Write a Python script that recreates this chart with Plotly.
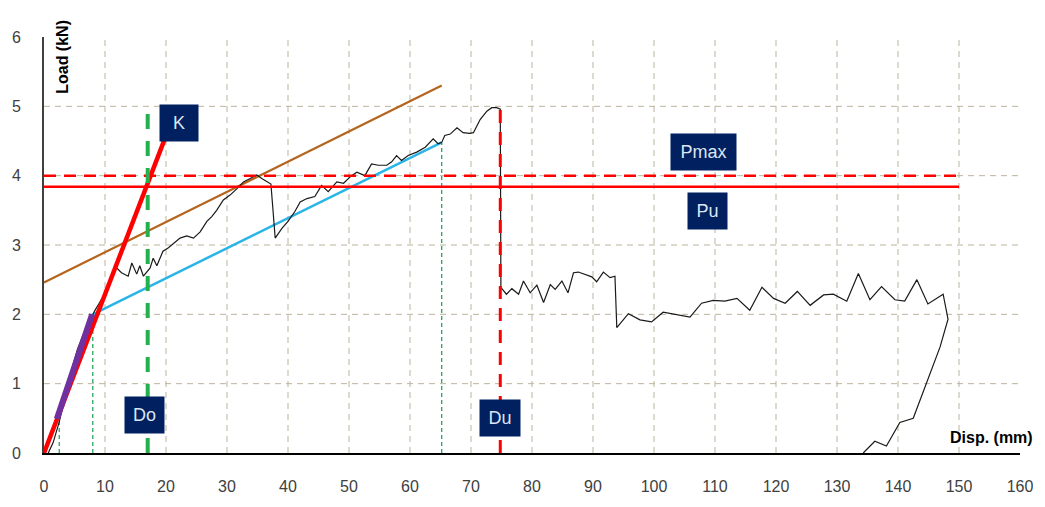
import plotly.graph_objects as go

# ---- data ----
disp = [0.7, 1.5, 2.5, 3.5, 4.5, 5.5, 6.5, 7.5, 8.3, 9.0, 10.0, 10.8, 11.5, 11.9,
        12.7, 13.8, 14.4, 15.2, 15.7, 16.3, 17.4, 17.9, 18.5, 19.0, 19.5, 20.4, 21.2,
        22.3, 23.4, 24.5, 25.6, 26.7, 27.5, 28.3, 29.4, 30.5, 31.6, 32.7, 33.8, 34.9,
        35.7, 37.2, 37.9, 39.0, 40.0, 41.1, 42.0, 43.1, 44.4, 45.5, 46.6, 48.0, 49.1,
        50.4, 51.3, 52.6, 53.7, 54.8, 56.2, 57.0, 57.8, 58.6, 59.7, 61.1, 62.5, 63.8,
        64.6, 65.2, 65.7, 66.6, 67.7, 68.7, 69.8, 70.4, 71.5, 72.6, 73.4, 74.2, 74.8,
        74.9, 75.8, 76.7, 77.8, 78.6, 79.7, 80.8, 81.9, 83.0, 83.8, 84.9, 85.9, 86.8,
        87.6, 89.8, 90.6, 91.7, 92.8, 93.6, 93.9, 95.8, 97.7, 99.6, 101.5, 105.9, 107.8,
        109.7, 111.6, 113.6, 115.7, 117.7, 119.6, 121.5, 123.5, 125.6, 127.8, 129.4,
        131.6, 133.5, 135.4, 137.3, 139.5, 141.1, 143.1, 144.9, 147.4, 148.2, 146.9,
        145.5, 144.1, 142.5, 140.3, 138.1, 136.2, 134.3]
load = [0.0, 0.15, 0.45, 0.85, 1.2, 1.5, 1.72, 1.9, 2.05, 2.15, 2.3, 2.45, 2.6, 2.67,
        2.60, 2.55, 2.74, 2.58, 2.70, 2.55, 2.67, 2.81, 2.70, 2.81, 2.91, 2.96, 3.02,
        3.10, 3.13, 3.10, 3.19, 3.34, 3.41, 3.50, 3.65, 3.72, 3.81, 3.91, 3.96, 4.01,
        3.96, 3.88, 3.10, 3.24, 3.34, 3.48, 3.62, 3.67, 3.70, 3.86, 3.77, 3.91, 3.89,
        4.00, 4.05, 4.00, 4.17, 4.15, 4.15, 4.20, 4.29, 4.22, 4.29, 4.34, 4.41, 4.53,
        4.46, 4.48, 4.58, 4.60, 4.69, 4.62, 4.61, 4.62, 4.81, 4.93, 4.98, 4.98, 4.96,
        2.39, 2.29, 2.37, 2.29, 2.48, 2.31, 2.42, 2.17, 2.43, 2.36, 2.48, 2.31, 2.60,
        2.61, 2.54, 2.47, 2.61, 2.53, 2.55, 1.81, 2.01, 1.92, 1.89, 2.03, 1.96, 2.16,
        2.20, 2.19, 2.23, 2.06, 2.39, 2.23, 2.16, 2.33, 2.13, 2.28, 2.29, 2.19, 2.59,
        2.21, 2.40, 2.21, 2.19, 2.50, 2.15, 2.29, 1.93, 1.53, 1.20, 0.86, 0.50, 0.44,
        0.10, 0.17, 0.0]

x_ticks = [0, 10, 20, 30, 40, 50, 60, 70, 80, 90, 100, 110, 120, 130, 140, 150, 160]
y_ticks = [0, 1, 2, 3, 4, 5, 6]

k_line_x = [0.0, 19.8]
k_line_y = [0.0, 4.53]
purple_x = [2.1, 7.9]
purple_y = [0.49, 2.0]
blue_x = [8.0, 65.2]
blue_y = [2.0, 4.48]
brown_x = [0.0, 65.2]
brown_y = [2.46, 5.3]
p_max = 4.0
p_u = 3.84
d_o = 17.0
d_u = 74.8
d_o_top = 5.0
d_u_top = 4.97
thin_marks_x = [2.5, 8.0, 65.2]
thin_marks_y = [0.49, 2.0, 4.48]
h_line_end = 150

# ---- figure ----
fig = go.Figure()
grid_col = "#BDB39C"
shapes = []
for xv in x_ticks[1:-1]:
    shapes.append(dict(type="line", xref="x", yref="y", x0=xv, x1=xv, y0=y_ticks[0], y1=y_ticks[-1],
                       line=dict(color=grid_col, width=1, dash="6px,5px"), layer="below"))
for yv in y_ticks[1:-1]:
    shapes.append(dict(type="line", xref="x", yref="y", x0=x_ticks[0], x1=x_ticks[-1], y0=yv, y1=yv,
                       line=dict(color=grid_col, width=1, dash="6px,5px"), layer="below"))
fig.update_layout(shapes=shapes)

def line(x, y, color, width, dash="solid"):
    fig.add_trace(go.Scatter(x=x, y=y, mode="lines", line=dict(color=color, width=width, dash=dash),
                             hoverinfo="skip", showlegend=False))

line(brown_x, brown_y, "#B5651D", 2.2)
line(blue_x, blue_y, "#29B5E8", 2.5)
for xv, yv in zip(thin_marks_x, thin_marks_y):
    line([xv, xv], [0, yv], "#12A050", 1.2, "4px,3px")
line(disp, load, "#1a1a1a", 1.2)
line([0, h_line_end], [p_u, p_u], "#FF0000", 2.5)
line([0, h_line_end], [p_max, p_max], "#FF0000", 2.5, "12px,8px")
line(k_line_x, k_line_y, "#FF0000", 4.5)
line(purple_x, purple_y, "#7030A0", 6)
line([d_o, d_o], [0, d_o_top], "#22B14C", 4, "15px,12px")
line([d_u, d_u], [0, d_u_top], "#FF0000", 3, "13px,9px")

box = dict(bgcolor="#002060", font=dict(family="Liberation Sans, Arial", size=18, color="#DCE6F2"),
           showarrow=False, xref="x", yref="y", height=36, borderpad=0)
fig.add_annotation(text="K", x=k_line_x[1] + 2.3, y=4.76, width=38, **box)
fig.add_annotation(text="Do", x=d_o - 0.5, y=0.55, width=39, **box)
fig.add_annotation(text="Du", x=d_u, y=0.5, width=40, **box)
fig.add_annotation(text="Pmax", x=108.1, y=p_max + 0.34, width=65, **box)
fig.add_annotation(text="Pu", x=108.7, y=p_u - 0.35, width=39, **box)

fig.add_annotation(text="<b>Load (kN)</b>", xref="paper", yref="paper", x=63, y=57,
                   showarrow=False, textangle=-90, xanchor="center", yanchor="middle",
                   font=dict(family="Liberation Sans, Arial", size=16, color="#000000"))
fig.add_annotation(text="<b>Disp. (mm)</b>", xref="paper", yref="paper", x=991, y=441,
                   showarrow=False, xanchor="center", yanchor="middle",
                   font=dict(family="Liberation Sans, Arial", size=16, color="#000000"))

W, H = 1045, 507
ml, mr, mt, mb = 44, 25, 37, 50
# convert pixel positions of axis titles to paper coords
for a in fig.layout.annotations:
    if a.xref == "paper":
        a.x = (a.x - ml) / (W - ml - mr)
        a.y = 1 - (a.y - mt) / (H - mt - mb)

fig.update_layout(
    width=W, height=H, margin=dict(l=ml, r=mr, t=mt, b=mb),
    plot_bgcolor="white", paper_bgcolor="white",
    font=dict(family="Liberation Sans, Arial", size=16, color="#404040"),
)
fig.update_xaxes(range=[x_ticks[0], x_ticks[-1]], tickvals=x_ticks, showgrid=False, zeroline=False,
                 showline=True, linecolor="#000000", linewidth=1.5, ticks="", ticklabelstandoff=18)
fig.update_yaxes(range=[y_ticks[0], y_ticks[-1]], tickvals=y_ticks, showgrid=False, zeroline=False,
                 showline=True, linecolor="#404040", linewidth=2, ticks="", ticklabelstandoff=18)

fig.write_html("out.html")
